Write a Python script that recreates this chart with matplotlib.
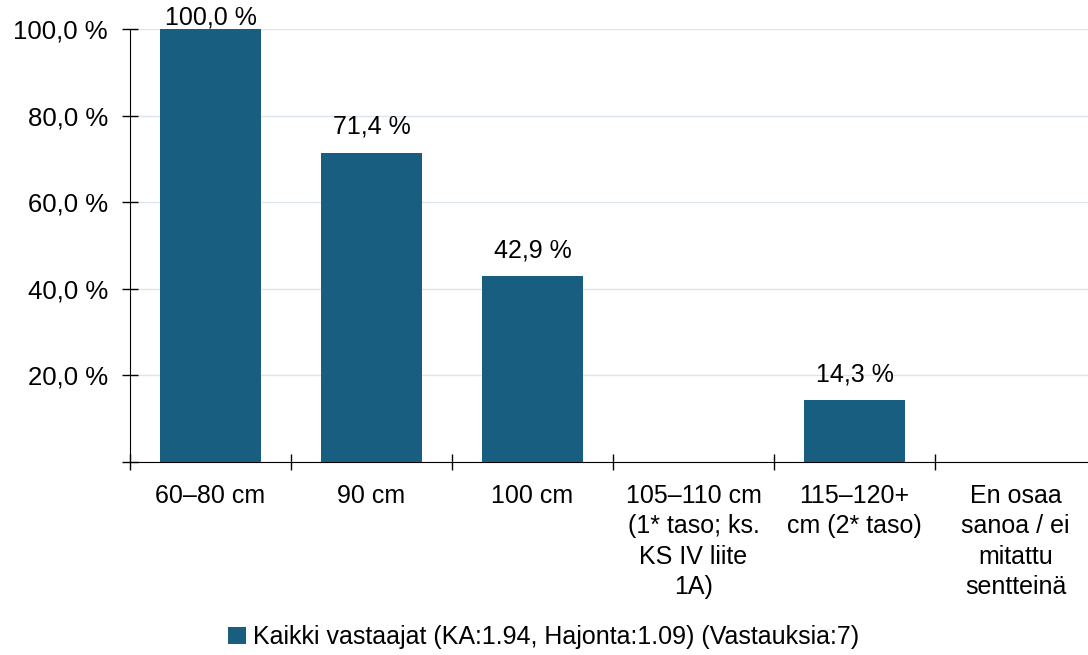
import matplotlib
matplotlib.use("Agg")
import matplotlib.pyplot as plt
import numpy as np

plt.rcParams['font.family'] = ['Liberation Sans', 'DejaVu Sans']

# Data
categories = ["60–80 cm", "90 cm", "100 cm",
              "105–110 cm\n(1* taso; ks.\nKS IV liite\n1A)",
              "115–120+\ncm (2* taso)",
              "En osaa\nsanoa / ei\nmitattu\nsentteinä"]
values = [100.0, 71.4, 42.9, 0.0, 14.3, 0.0]
series_name = "Kaikki vastaajat (KA:1.94, Hajonta:1.09) (Vastauksia:7)"
yticks = [20, 40, 60, 80, 100]

bar_color = "#175e80"
fs = 18

fig = plt.figure(figsize=(10.88, 6.55), dpi=100)
ax = fig.add_axes([130/1088, (655-462)/655, 966/1088, (462-29)/655])

x = np.arange(len(categories))
bars = ax.bar(x, values, width=0.63, color=bar_color, label=series_name, zorder=3)

# value labels above bars, kept inside the figure at the top
for xi, v in zip(x, values):
    if v > 0:
        ax.text(xi, min(v + 6, 102.6), f"{v:.1f} %".replace(".", ","), ha="center", va="center",
                fontsize=fs, zorder=4, clip_on=False)

ax.set_xlim(-0.5, len(categories) - 0.5)
ax.set_ylim(0, 100)

ax.set_yticks([0] + yticks)
ax.set_yticklabels([""] + [f"{t:.1f} %".replace(".", ",") for t in yticks], fontsize=18.5)
ax.yaxis.grid(True, color="#dce4ef", linewidth=1, zorder=0)

# category labels between boundary ticks
ax.set_xticks(np.arange(len(categories) + 1) - 0.5)
ax.set_xticklabels([])
ax.set_xticks(x, minor=True)
ax.set_xticklabels(categories, minor=True, fontsize=fs, linespacing=1.33, va="top")
ax.tick_params(axis="x", which="minor", length=0, pad=16)
ax.tick_params(axis="x", which="major", direction="inout", length=12, width=1)
ax.tick_params(axis="y", direction="inout", length=12, width=1, pad=10)

for s in ["top", "right"]:
    ax.spines[s].set_visible(False)
ax.spines["left"].set_color("black")
ax.spines["bottom"].set_color("black")

fig.legend(handles=[bars], labels=[series_name], loc="center", bbox_to_anchor=(0.5, 1 - 637/655),
           frameon=False, fontsize=fs, handlelength=0.7, handleheight=0.7, handletextpad=0.3)

fig.savefig("out.png", dpi=100)
